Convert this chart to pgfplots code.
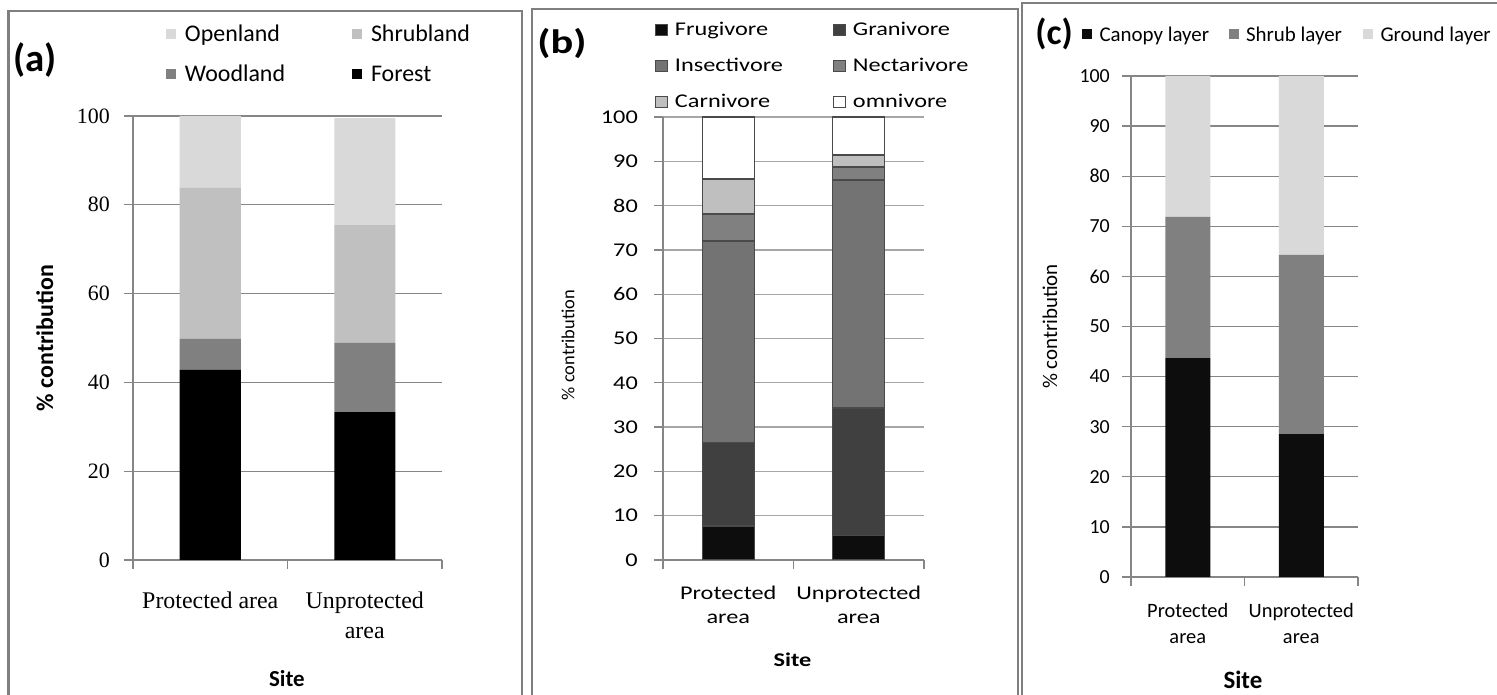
\documentclass[border=0pt]{standalone}
\usepackage{fontspec}
\setmainfont{Carlito}
\newfontfamily\serif{Liberation Serif}
\newfontfamily\calw[FakeStretch=1.25]{Carlito}
\usepackage{pgfplots}
\pgfplotsset{compat=1.18}
\definecolor{gridc}{HTML}{868686}
\definecolor{gridb}{HTML}{A6A6A6}
\definecolor{framec}{HTML}{7F7F7F}
\definecolor{cA}{HTML}{000000}
\definecolor{cB}{HTML}{808080}
\definecolor{cC}{HTML}{C0C0C0}
\definecolor{cD}{HTML}{D9D9D9}
\definecolor{bA}{HTML}{0D0D0D}
\definecolor{bB}{HTML}{404040}
\definecolor{bC}{HTML}{737373}
\definecolor{bD}{HTML}{808080}
\definecolor{bE}{HTML}{BFBFBF}
\definecolor{bEdge}{HTML}{4A4A4A}
\newcommand\struta{\rule[-6bp]{0pt}{24bp}}
\newcommand\strutb{\rule[-5bp]{0pt}{22bp}}
\newcommand\strutc{\rule[-6bp]{0pt}{24bp}}
\pgfplotsset{
  xl/.style={
    scale only axis, xmin=0, xmax=2, ymin=0, ymax=100,
    ybar stacked,
    axis x line*=bottom, axis y line*=left,
    axis line style={draw=gridc, line width=1.3bp},
    tick align=outside, major tick length=9bp,
    tick style={draw=gridc, line width=1.3bp},
    xtick={0,1,2}, xticklabels={},
    extra x ticks={0.5,1.5},
    extra x tick labels={Protected area,{Unprotected\\area}},
    extra x tick style={major tick length=0pt, grid=none},
    ymajorgrids, grid style={draw=gridc, line width=1.3bp},
    /pgf/number format/assume math mode=true,
    yticklabel style={anchor=east, inner sep=0pt},
    xticklabel style={anchor=north, inner sep=0pt, align=center},
    every axis y label/.style={rotate=90, anchor=center},
    every axis x label/.style={anchor=center},
    legend cell align=left,
  }
}
\begin{document}
\begin{tikzpicture}
\useasboundingbox (0,0) rectangle (1497bp,695bp);
\fill[white] (0,0) rectangle (1497bp,695bp);
% frames
\draw[framec, line width=2.5bp] (8.5bp,-20bp) |- (522bp,684bp) -- (522bp,-20bp);
\draw[framec, line width=2.5bp] (532bp,-20bp) |- (1018bp,686bp) -- (1018bp,-20bp);
\draw[framec, line width=2.5bp] (1022bp,-20bp) |- (1520bp,692bp);
% (a)
\begin{axis}[xl,
  at={(133bp,135bp)}, anchor=south west, width=309bp, height=444bp,
  bar width=61bp,
  ytick={0,20,40,60,80,100},
  yticklabel style={font=\serif\fontsize{22}{24}\selectfont, xshift=-14bp},
  xticklabel style={font=\serif\fontsize{24}{30}\selectfont, yshift=-32bp},
  ylabel={\bfseries \% contribution},
  ylabel style={font=\fontsize{24}{28}\selectfont, at={(rel axis cs:-0.285,0.5)}},
  xlabel={\bfseries Site},
  xlabel style={font=\fontsize{23}{28}\selectfont, at={(rel axis cs:0.498,-0.266)}},
  legend columns=2, reverse legend,
  legend image code/.code={\fill[#1] (0bp,-5.5bp) rectangle (10bp,4.5bp);},
  legend style={draw=none, fill=none, inner sep=0pt, outer sep=0pt,
    at={(0.1068,1.2072)}, anchor=north west, row sep=20bp,
    nodes={inner sep=0pt, font=\fontsize{24}{28}\selectfont},
    /tikz/every odd column/.append style={column sep=9bp}},
]
\addplot[fill=cA, draw=none] coordinates {(0.5,42.8) (1.5,33.3)};
\addlegendentry{\makebox[167bp][l]{\struta Forest}}
\addplot[fill=cB, draw=none] coordinates {(0.5,7.0) (1.5,15.6)};
\addlegendentry{\makebox[167bp][l]{\struta Woodland}}
\addplot[fill=cC, draw=none] coordinates {(0.5,34.0) (1.5,26.5)};
\addlegendentry{\makebox[167bp][l]{\struta Shrubland}}
\addplot[fill=cD, draw=none] coordinates {(0.5,16.2) (1.5,24.1)};
\addlegendentry{\makebox[167bp][l]{\struta Openland}}
\end{axis}
% (b)
\begin{axis}[xl,
  at={(663bp,135bp)}, anchor=south west, width=261bp, height=443bp,
  bar width=52bp,
  grid style={draw=gridb, line width=1.3bp},
  ytick={0,10,...,100},
  yticklabel style={font=\calw\fontsize{19.5}{22}\selectfont, xshift=-16bp},
  xticklabel style={font=\calw\fontsize{19.5}{24}\selectfont, yshift=-26bp},
  extra x tick labels={{Protected\\area},{Unprotected\\area}},
  ylabel={\% contribution},
  ylabel style={font=\fontsize{18.5}{22}\selectfont, at={(rel axis cs:-0.364,0.485)}},
  xlabel={\bfseries Site},
  xlabel style={font=\calw\fontsize{19.5}{24}\selectfont, at={(rel axis cs:0.496,-0.2257)}},
  legend columns=2,
  legend image code/.code={\draw[#1, line width=1.3bp] (0.65bp,-7bp) rectangle (12.35bp,4bp);},
  legend style={draw=none, fill=none, inner sep=0pt, outer sep=0pt,
    at={(-0.0307,1.2212)}, anchor=north west, row sep=17.5bp,
    nodes={inner sep=0pt, font=\calw\fontsize{19.5}{22}\selectfont},
    /tikz/every odd column/.append style={column sep=7bp}},
]
\addplot[fill=bA, draw=bEdge, line width=1.3bp] coordinates {(0.5,7.7) (1.5,5.6)};
\addlegendentry{\makebox[158bp][l]{\strutb Frugivore}}
\addplot[fill=bB, draw=bEdge, line width=1.3bp] coordinates {(0.5,18.8) (1.5,28.7)};
\addlegendentry{\makebox[158bp][l]{\strutb Granivore}}
\addplot[fill=bC, draw=bEdge, line width=1.3bp] coordinates {(0.5,45.5) (1.5,51.5)};
\addlegendentry{\makebox[158bp][l]{\strutb Insectivore}}
\addplot[fill=bD, draw=bEdge, line width=1.3bp] coordinates {(0.5,6.1) (1.5,2.9)};
\addlegendentry{\makebox[158bp][l]{\strutb Nectarivore}}
\addplot[fill=bE, draw=bEdge, line width=1.3bp] coordinates {(0.5,7.9) (1.5,2.7)};
\addlegendentry{\makebox[158bp][l]{\strutb Carnivore}}
\addplot[fill=white, draw=bEdge, line width=1.3bp] coordinates {(0.5,14.0) (1.5,8.6)};
\addlegendentry{\makebox[158bp][l]{\strutb omnivore}}
\end{axis}
% (c)
\begin{axis}[xl,
  at={(1131bp,118bp)}, anchor=south west, width=227bp, height=501bp,
  bar width=45bp,
  ytick={0,10,...,100},
  yticklabel style={font=\fontsize{20}{24}\selectfont, xshift=-12bp},
  xticklabel style={font=\fontsize{20.5}{26}\selectfont, yshift=-26bp},
  extra x tick labels={{Protected\\area},{Unprotected\\area}},
  ylabel={\% contribution},
  ylabel style={font=\fontsize{21}{24}\selectfont, at={(rel axis cs:-0.357,0.5)}},
  xlabel={\bfseries Site},
  xlabel style={font=\fontsize{25}{28}\selectfont, at={(rel axis cs:0.493,-0.2056)}},
  legend columns=3,
  legend image code/.code={\fill[#1] (0bp,-5bp) rectangle (10bp,5bp);},
  legend style={draw=none, fill=none, inner sep=0pt, outer sep=0pt,
    at={(-0.2159,1.1038)}, anchor=north west,
    nodes={inner sep=0pt, font=\fontsize{21}{24}\selectfont},
    /tikz/every odd column/.append style={column sep=7.5bp}},
]
\addplot[fill=bA, draw=none] coordinates {(0.5,43.7) (1.5,28.5)};
\addlegendentry{\makebox[129bp][l]{\strutc Canopy layer}}
\addplot[fill=cB, draw=none] coordinates {(0.5,28.2) (1.5,35.8)};
\addlegendentry{\makebox[117bp][l]{\strutc Shrub layer}}
\addplot[fill=cD, draw=none] coordinates {(0.5,28.1) (1.5,35.7)};
\addlegendentry{\strutc Ground layer}
\end{axis}
% panel labels
\node[font=\bfseries\fontsize{39}{40}\selectfont] at (35bp,635bp) {(a)};
\node[font=\calw\bfseries\fontsize{34}{36}\selectfont] at (562bp,651bp) {(b)};
\node[font=\bfseries\fontsize{36}{38}\selectfont] at (1054bp,661bp) {(c)};
\end{tikzpicture}
\end{document}
